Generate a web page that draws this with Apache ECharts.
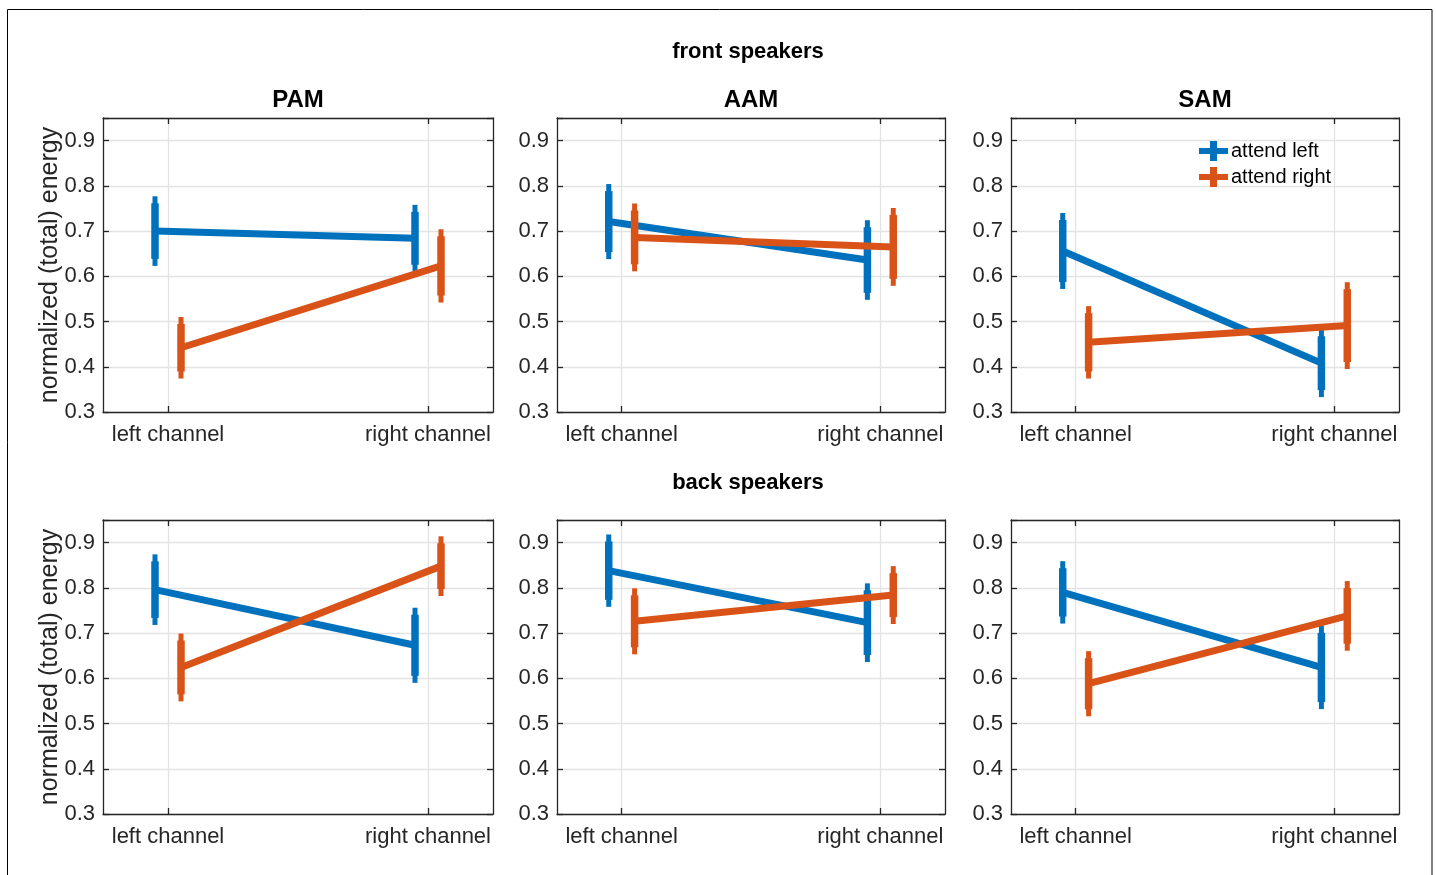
<!DOCTYPE html>
<html>
<head>
<meta charset="utf-8">
<script src="https://cdn.jsdelivr.net/npm/echarts@6/dist/echarts.min.js"></script>
<style>
  html, body { margin: 0; padding: 0; background: #fff; }
  #chart { width: 1436px; height: 875px; }
</style>
</head>
<body>
<div id="chart"></div>
<script>
// panel layout: rows = speaker position, columns = modulation type
const sections = ["front speakers", "back speakers"];
const panels = ["PAM", "AAM", "SAM"];
const channels = ["left channel", "right channel"];
const yTicks = [0.3, 0.4, 0.5, 0.6, 0.7, 0.8, 0.9];

// values per panel: [left channel, right channel]
const attendLeftFront = [[0.700, 0.684], [0.721, 0.636], [0.656, 0.408]];
const attendLeftFrontErr = [[0.077, 0.074], [0.083, 0.088], [0.084, 0.075]];
const attendRightFront = [[0.442, 0.623], [0.686, 0.665], [0.454, 0.491]];
const attendRightFrontErr = [[0.068, 0.081], [0.075, 0.086], [0.080, 0.096]];

const attendLeftBack = [[0.796, 0.673], [0.838, 0.723], [0.790, 0.624]];
const attendLeftBackErr = [[0.078, 0.083], [0.080, 0.087], [0.069, 0.092]];
const attendRightBack = [[0.624, 0.848], [0.726, 0.784], [0.588, 0.738]];
const attendRightBackErr = [[0.075, 0.066], [0.073, 0.064], [0.072, 0.077]];

const BLUE = "#0072BD";
const ORANGE = "#D95319";
const AXIS = "#262626";
const FONT = "'Liberation Sans', Arial, sans-serif";

const colLeft = [103, 557, 1011];
const colWidth = [390, 388, 388];
const rowTop = [118, 520];
const rowHeight = 294;

const groups = [
  { name: "attend left", color: BLUE, offset: -0.05,
    means: [attendLeftFront, attendLeftBack], errs: [attendLeftFrontErr, attendLeftBackErr] },
  { name: "attend right", color: ORANGE, offset: 0.05,
    means: [attendRightFront, attendRightBack], errs: [attendRightFrontErr, attendRightBackErr] }
];

// thick vertical bar with slightly thinner tips
function renderErrorBar(params, api) {
  const x = api.value(0);
  const lo = api.coord([x, api.value(1)]);
  const hi = api.coord([x, api.value(2)]);
  const color = api.visual("color");
  const tip = 7;
  return {
    type: "group",
    children: [
      { type: "line", shape: { x1: lo[0], y1: lo[1], x2: hi[0], y2: hi[1] },
        style: { stroke: color, lineWidth: 5 } },
      { type: "line", shape: { x1: lo[0], y1: lo[1] - tip, x2: hi[0], y2: hi[1] + tip },
        style: { stroke: color, lineWidth: 7.5 } }
    ]
  };
}

const grid = [], xAxis = [], yAxis = [], series = [];
const labelFmt = v => {
  const r = Math.round(v * 10) / 10;
  return Math.abs(v - r) < 1e-6 ? r.toFixed(1) : "";
};

sections.forEach((sec, r) => {
  panels.forEach((p, c) => {
    const g = grid.length;
    grid.push({ left: colLeft[c], top: rowTop[r], width: colWidth[c], height: rowHeight,
      outerBoundsMode: "none" });

    // bottom + top x axes (box with inward ticks)
    xAxis.push({
      type: "value", gridIndex: g, min: 0.75, max: 2.25, position: "bottom",
      axisLine: { show: true, onZero: false, lineStyle: { color: AXIS, width: 1.3 } },
      axisTick: { show: true, inside: true, length: 6, customValues: [1, 2],
        lineStyle: { color: AXIS, width: 1.3 } },
      axisLabel: { customValues: [1, 2], formatter: v => channels[Math.round(v) - 1],
        color: AXIS, fontSize: 22, fontFamily: FONT, margin: 12 },
      splitLine: { show: true, lineStyle: { color: "#e3e3e3", width: 1.3 } }
    });
    xAxis.push({
      type: "value", gridIndex: g, min: 0.75, max: 2.25, position: "top",
      axisLine: { show: true, onZero: false, lineStyle: { color: AXIS, width: 1.3 } },
      axisTick: { show: true, inside: true, length: 6, customValues: [1, 2],
        lineStyle: { color: AXIS, width: 1.3 } },
      axisLabel: { show: false }, splitLine: { show: false }
    });

    // left + right y axes
    yAxis.push({
      type: "value", gridIndex: g, min: 0.3, max: 0.95, interval: 0.1, position: "left",
      name: c === 0 ? "normalized (total) energy" : "",
      nameLocation: "middle", nameGap: 40, nameRotate: 90, nameMoveOverlap: false,
      nameTextStyle: { color: AXIS, fontSize: 25, fontFamily: FONT },
      axisLine: { show: true, onZero: false, lineStyle: { color: AXIS, width: 1.3 } },
      axisTick: { show: true, inside: true, length: 6, lineStyle: { color: AXIS, width: 1.3 } },
      axisLabel: { formatter: labelFmt, color: AXIS, fontSize: 22, fontFamily: FONT, margin: 8 },
      splitLine: { show: true, lineStyle: { color: "#e3e3e3", width: 1.3 } }
    });
    yAxis.push({
      type: "value", gridIndex: g, min: 0.3, max: 0.95, interval: 0.1, position: "right",
      axisLine: { show: true, onZero: false, lineStyle: { color: AXIS, width: 1.3 } },
      axisTick: { show: true, inside: true, length: 6, lineStyle: { color: AXIS, width: 1.3 } },
      axisLabel: { show: false }, splitLine: { show: false }
    });

    const xi = g * 2, yi = g * 2;
    groups.forEach((grp, k) => {
      const m = grp.means[r][c], e = grp.errs[r][c];
      series.push({
        name: grp.name, type: "custom", xAxisIndex: xi, yAxisIndex: yi,
        renderItem: renderErrorBar, itemStyle: { color: grp.color },
        encode: { x: 0, y: [1, 2] }, z: 3 + k * 2, silent: true,
        data: m.map((v, i) => [i + 1 + grp.offset, v - e[i], v + e[i]])
      });
    });
    groups.forEach((grp, k) => {
      const m = grp.means[r][c];
      series.push({
        name: grp.name, type: "line", xAxisIndex: xi, yAxisIndex: yi,
        symbol: "none", z: 2 + k * 2, silent: true,
        lineStyle: { color: grp.color, width: 7 },
        itemStyle: { color: grp.color },
        data: m.map((v, i) => [i + 1 + grp.offset, v])
      });
    });
  });
});

const titleFont = "bold 24px " + FONT;
const sectionFont = "bold 22px " + FONT;

const graphic = [
  { type: "rect", shape: { x: 7.5, y: 9.5, width: 1424.5, height: 900 },
    style: { fill: "none", stroke: "#000", lineWidth: 1 }, silent: true },
  { type: "text", x: 748, y: 52, style: { text: sections[0], font: sectionFont,
    fill: "#000", textAlign: "center", textVerticalAlign: "middle" } },
  { type: "text", x: 748, y: 483, style: { text: sections[1], font: sectionFont,
    fill: "#000", textAlign: "center", textVerticalAlign: "middle" } }
];
panels.forEach((p, c) => {
  graphic.push({ type: "text", x: colLeft[c] + colWidth[c] / 2, y: 100,
    style: { text: p, font: titleFont, fill: "#000", textAlign: "center", textVerticalAlign: "middle" } });
});

const chart = echarts.init(document.getElementById("chart"));
chart.setOption({
  animation: false,
  backgroundColor: "#fff",
  grid, xAxis, yAxis, series, graphic,
  legend: {
    data: groups.map(g => g.name),
    orient: "vertical", left: 1199, top: 141, padding: 0, itemGap: 6,
    itemWidth: 29, itemHeight: 20,
    icon: "path://M0,7H29V13H0Z M11,0H18V20H11Z",
    textStyle: { fontSize: 20, color: "#000", fontFamily: FONT, padding: [0, 0, 0, -2] },
    selectedMode: false
  }
});
</script>
</body>
</html>
